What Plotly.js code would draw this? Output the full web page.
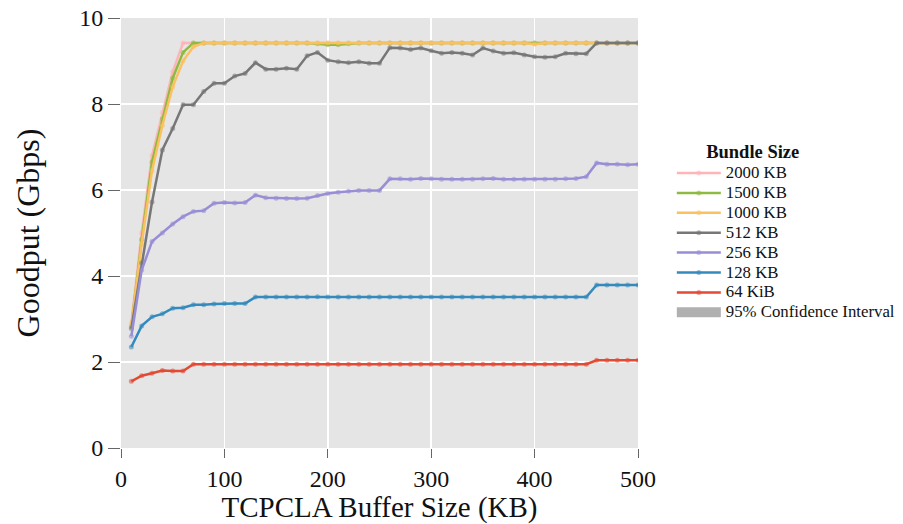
<!DOCTYPE html>
<html>
<head>
<meta charset="utf-8">
<script src="https://cdn.plot.ly/plotly-3.0.1.min.js"></script>
<style>html,body{margin:0;padding:0;background:#fff;}#chart{width:903px;height:524px;}</style>
</head>
<body>
<div id="chart"></div>
<script>
const bufferKB = [10,20,30,40,50,60,70,80,90,100,110,120,130,140,150,160,170,180,190,200,210,220,230,240,250,260,270,280,290,300,310,320,330,340,350,360,370,380,390,400,410,420,430,440,450,460,470,480,490,500];

const seriesNames = ["2000 KB","1500 KB","1000 KB","512 KB","256 KB","128 KB","64 KiB"];
const seriesColors = ["#FFB5B8","#8EBA42","#FBC15E","#777777","#988ED5","#348ABD","#E24A33"];

const g2000 = [2.90,5.00,6.80,7.80,8.75,9.42,9.42,9.42,9.42,9.42,9.42,9.42,9.42,9.42,9.42,9.42,9.42,9.42,9.42,9.42,9.42,9.42,9.42,9.42,9.42,9.42,9.42,9.42,9.42,9.42,9.42,9.42,9.42,9.42,9.42,9.42,9.42,9.42,9.42,9.42,9.42,9.42,9.42,9.42,9.42,9.42,9.42,9.42,9.42,9.42];
const g1500 = [2.82,4.85,6.65,7.65,8.60,9.20,9.42,9.42,9.42,9.42,9.42,9.42,9.42,9.42,9.42,9.42,9.42,9.42,9.40,9.38,9.38,9.40,9.42,9.42,9.42,9.42,9.42,9.42,9.42,9.42,9.42,9.42,9.42,9.42,9.42,9.42,9.42,9.42,9.42,9.42,9.42,9.42,9.42,9.42,9.42,9.42,9.42,9.42,9.42,9.42];
const g1000 = [2.85,4.75,6.45,7.50,8.40,9.00,9.33,9.42,9.42,9.42,9.42,9.42,9.42,9.42,9.42,9.42,9.42,9.42,9.42,9.42,9.42,9.42,9.42,9.42,9.42,9.42,9.42,9.42,9.42,9.42,9.42,9.42,9.42,9.42,9.42,9.42,9.42,9.42,9.42,9.39,9.42,9.42,9.42,9.42,9.42,9.42,9.42,9.42,9.42,9.42];
const g512 = [2.78,4.30,5.72,6.93,7.43,7.98,7.98,8.29,8.48,8.48,8.65,8.71,8.96,8.81,8.81,8.83,8.81,9.12,9.20,9.02,8.98,8.96,8.98,8.95,8.95,9.31,9.30,9.27,9.30,9.24,9.18,9.20,9.18,9.14,9.30,9.23,9.18,9.19,9.14,9.10,9.09,9.10,9.18,9.17,9.17,9.42,9.42,9.42,9.42,9.42];
const g256 = [2.60,4.14,4.80,5.00,5.21,5.38,5.50,5.52,5.69,5.71,5.70,5.71,5.88,5.82,5.81,5.80,5.80,5.81,5.87,5.92,5.95,5.97,5.99,5.99,5.99,6.26,6.26,6.25,6.27,6.26,6.25,6.25,6.25,6.25,6.26,6.27,6.25,6.25,6.25,6.25,6.25,6.25,6.26,6.27,6.31,6.63,6.60,6.60,6.59,6.60];
const g128 = [2.35,2.84,3.05,3.12,3.25,3.26,3.33,3.33,3.35,3.36,3.36,3.36,3.51,3.51,3.51,3.51,3.51,3.51,3.52,3.51,3.51,3.51,3.51,3.51,3.51,3.51,3.51,3.51,3.51,3.51,3.51,3.51,3.51,3.51,3.51,3.51,3.51,3.51,3.51,3.51,3.51,3.51,3.51,3.51,3.51,3.79,3.79,3.79,3.79,3.79];
const g64 = [1.55,1.68,1.74,1.80,1.79,1.79,1.95,1.95,1.95,1.95,1.95,1.95,1.95,1.95,1.95,1.95,1.95,1.95,1.95,1.95,1.95,1.95,1.95,1.95,1.95,1.95,1.95,1.95,1.95,1.95,1.95,1.95,1.95,1.95,1.95,1.95,1.95,1.95,1.95,1.95,1.95,1.95,1.95,1.95,1.95,2.04,2.04,2.04,2.04,2.04];

const allSeries = [g2000,g1500,g1000,g512,g256,g128,g64];
const xTicks = [0,100,200,300,400,500];
const yTicks = [0,2,4,6,8,10];

function hexToRgba(h,a){const n=parseInt(h.slice(1),16);return `rgba(${(n>>16)&255},${(n>>8)&255},${n&255},${a})`;}
function legendLabel(t){return '<span style="font-size:16.8px">'+t+'</span>';}

const FONT = "Liberation Serif, Times New Roman, serif";
const traces = allSeries.map((ys,i)=>({
  type:'scatter', mode:'lines+markers', name:legendLabel(seriesNames[i]),
  x:bufferKB, y:ys,
  line:{color:seriesColors[i], width:2.5},
  marker:{color:hexToRgba(seriesColors[i],0.55), size:5},
  showlegend:true
}));
traces.push({
  type:'scatter', mode:'lines', name:legendLabel('95% Confidence Interval'),
  x:[null], y:[null], line:{color:'#b0b0b0', width:10}, showlegend:true
});

const layout = {
  width:903, height:524,
  margin:{l:121, r:265, t:18, b:76, autoexpand:false},
  paper_bgcolor:'#ffffff', plot_bgcolor:'#E5E5E5',
  font:{family:FONT, color:'#111'},
  xaxis:{range:[0,500], tickvals:xTicks, ticks:'outside', ticklen:9, tickcolor:'#666', tickwidth:1,
    gridcolor:'#ffffff', gridwidth:1.5, zeroline:false, showline:false,
    tickfont:{family:FONT, size:24, color:'#111'},
    title:{text:'TCPCLA Buffer Size (KB)', font:{family:FONT, size:29, color:'#111'}, standoff:4}},
  yaxis:{range:[0,10], tickvals:yTicks, ticks:'outside', ticklen:12, tickcolor:'#666', tickwidth:1,
    gridcolor:'#ffffff', gridwidth:1.5, zeroline:false, showline:false,
    tickfont:{family:FONT, size:24, color:'#111'},
    title:{text:'Goodput (Gbps)', font:{family:FONT, size:32, color:'#111'}, standoff:30}},
  legend:{xref:'container', yref:'container', x:0.744, xanchor:'left', y:0.7443, yanchor:'top', bgcolor:'rgba(0,0,0,0)',
    font:{family:FONT, size:13, color:'#111'}, itemwidth:44, tracegroupgap:0,
    title:{text:'&nbsp;&nbsp;&nbsp;&nbsp;&nbsp;&nbsp;&nbsp;<b>Bundle Size</b>', side:'top', font:{family:FONT, size:18.5, color:'#111'}}},
  showlegend:true
};

Plotly.newPlot('chart', traces, layout, {displayModeBar:false, staticPlot:true});
</script>
</body>
</html>
